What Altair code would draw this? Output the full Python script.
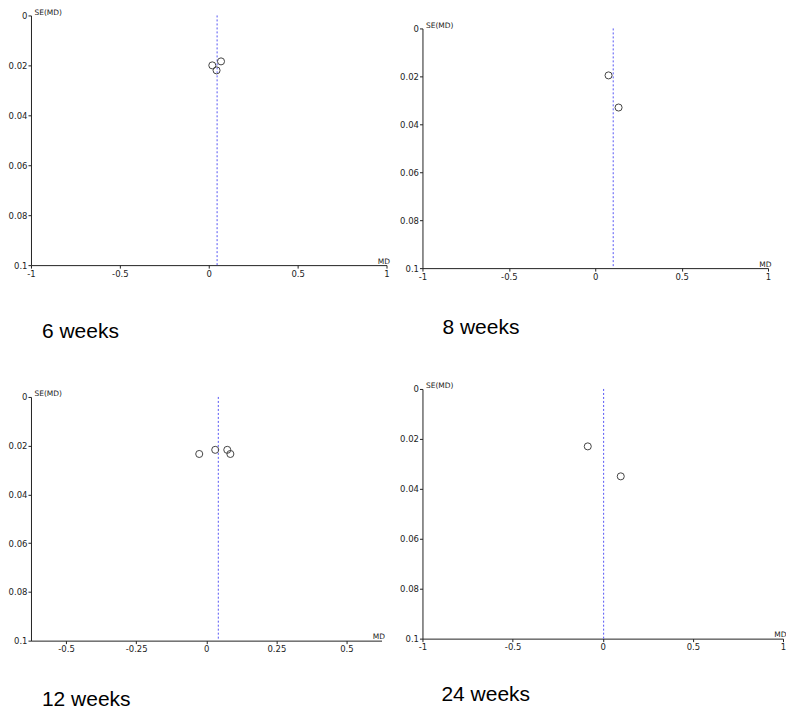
import altair as alt
import pandas as pd

# ---- data ----
titles = ["6 weeks", "8 weeks", "12 weeks", "24 weeks"]

md_6w = [0.020, 0.044, 0.069]
se_6w = [0.0200, 0.0220, 0.0184]
pooled_6w = 0.047

md_8w = [0.077, 0.135]
se_8w = [0.0196, 0.0330]
pooled_8w = 0.104

md_12w = [-0.025, 0.032, 0.075, 0.086]
se_12w = [0.0234, 0.0217, 0.0217, 0.0234]
pooled_12w = 0.043

md_24w = [-0.083, 0.100]
se_24w = [0.0230, 0.0350]
pooled_24w = 0.005

x_domain_wide = [-1, 1]
x_ticks_wide = [-1, -0.5, 0, 0.5, 1]
x_domain_narrow = [-0.625, 0.625]
x_ticks_narrow = [-0.5, -0.25, 0, 0.25, 0.5]
y_domain = [0, 0.1]
y_ticks = [0, 0.02, 0.04, 0.06, 0.08, 0.1]

FONT = "DejaVu Sans"
TFONT = "Liberation Sans"
INK = "#222222"


def panel(md, se, pooled, xdom, xticks, w, h, title, dx, offset, ytop=0):
    df = pd.DataFrame({"md": md, "se": se})
    xs = alt.X(
        "md:Q",
        scale=alt.Scale(domain=xdom, nice=False, zero=False),
        axis=alt.Axis(
            values=xticks, title="MD", labelExpr="datum.value + ''",
            labelFlush=False, labelOverlap=False,
            titleAlign="right", titleBaseline="alphabetic", titleAnchor="end",
            titleX=w + 3, titleY=-2, tickSize=3, labelPadding=1,
        ),
    )
    ys = alt.Y(
        "se:Q",
        scale=alt.Scale(domain=y_domain, range=[ytop, h], nice=False, zero=False),
        axis=alt.Axis(
            values=y_ticks, title="SE(MD)", labelExpr="datum.value + ''",
            labelOverlap=False, labelFlush=False,
            titleAngle=0, titleAlign="left", titleBaseline="alphabetic",
            titleX=3, titleY=ytop - 1, tickSize=3, labelPadding=1,
        ),
    )
    rule = alt.Chart(pd.DataFrame({"md": [pooled]})).mark_rule(
        color="#5555f5", strokeDash=[2, 2], strokeWidth=1
    ).encode(x=alt.X("md:Q"), y=alt.datum(0), y2=alt.datum(0.1))
    pts = alt.Chart(df).mark_point(
        shape="circle", filled=False, size=50, stroke="#444444", strokeWidth=1, opacity=1
    ).encode(x=xs, y=ys)
    return alt.layer(rule, pts).properties(
        width=w, height=h,
        title=alt.TitleParams(
            title, orient="bottom", anchor="start", frame="group",
            fontSize=21, font=TFONT, fontWeight="normal", color="black",
            baseline="alphabetic", offset=offset, dx=dx,
        ),
    )


p1 = panel(md_6w, se_6w, pooled_6w, x_domain_wide, x_ticks_wide, 356, 250, titles[0], 11, 60)
p2 = panel(md_8w, se_8w, pooled_8w, x_domain_wide, x_ticks_wide, 346, 253, titles[1], 20, 53, ytop=13)
p3 = panel(md_12w, se_12w, pooled_12w, x_domain_narrow, x_ticks_narrow, 351, 244, titles[2], 11, 53)
p4 = panel(md_24w, se_24w, pooled_24w, x_domain_wide, x_ticks_wide, 361, 250, titles[3], 19, 50)

col1 = alt.vconcat(p1, p3, spacing=48)
col2 = alt.vconcat(p2, p4, spacing=44)

chart = alt.hconcat(col1, col2, spacing=10).properties(
    padding={"left": 0, "top": 0, "right": 0, "bottom": 0}
).configure_view(stroke=None).configure_axis(
    grid=False,
    labelFont=FONT, labelFontSize=8.5, labelColor=INK,
    titleFont=FONT, titleFontSize=7.5, titleFontWeight="normal", titleColor=INK,
    domainColor=INK, tickColor=INK, domainWidth=1, tickWidth=1,
)

chart.save("out.html", embed_options={"renderer": "svg", "actions": False})
